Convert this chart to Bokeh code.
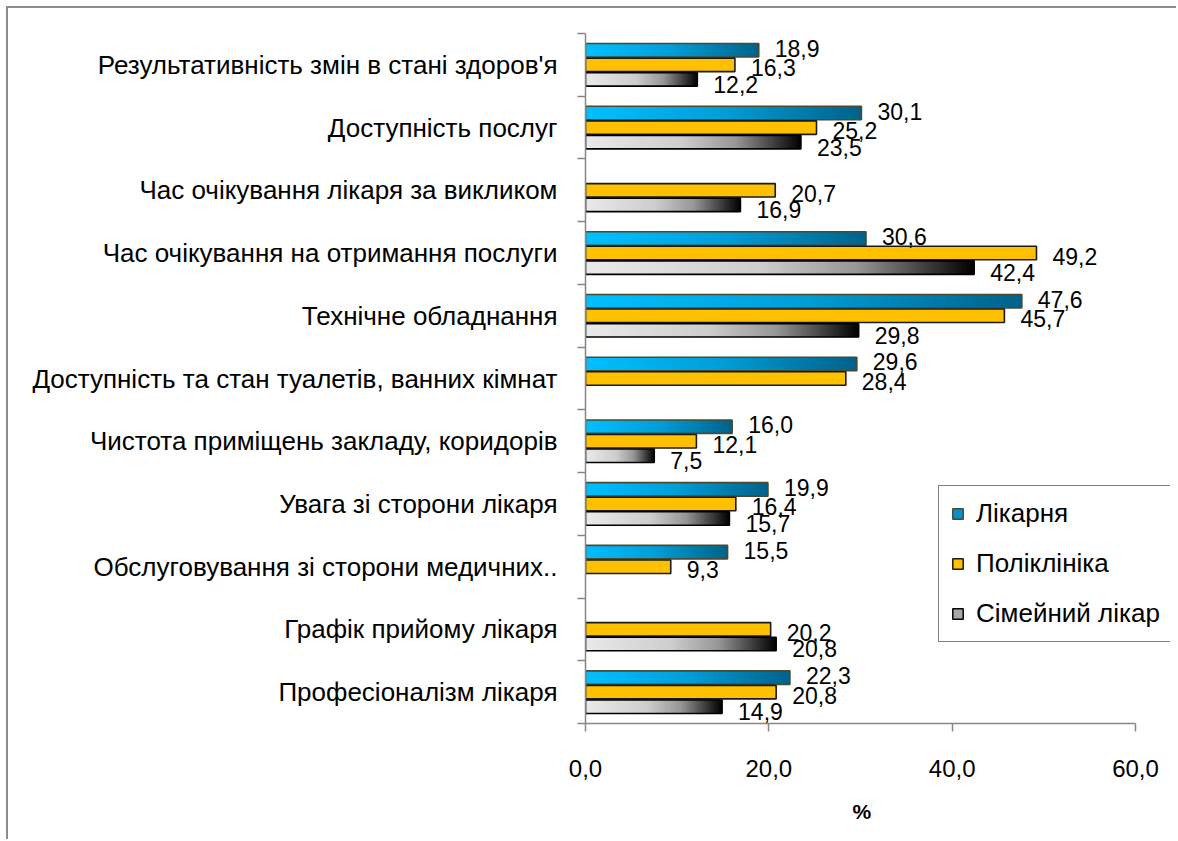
import numpy as np
from bokeh.plotting import figure
from bokeh.models import ColumnDataSource, FixedTicker, Range1d, Legend, LegendItem, Title
from bokeh.core.properties import value
from bokeh.embed import file_html
from bokeh.resources import INLINE

# ---------------- data ----------------
categories = [
    "Результативність змін в стані здоров'я",
    "Доступність послуг",
    "Час очікування лікаря за викликом",
    "Час очікування на отримання послуги",
    "Технічне обладнання",
    "Доступність та стан туалетів, ванних кімнат",
    "Чистота приміщень закладу, коридорів",
    "Увага зі сторони лікаря",
    "Обслуговування зі сторони медичних..",
    "Графік прийому лікаря",
    "Професіоналізм лікаря",
]
series_names = ["Лікарня", "Поліклініка", "Сімейний лікар"]
hospital = [18.9, 30.1, None, 30.6, 47.6, 29.6, 16.0, 19.9, 15.5, None, 22.3]
polyclinic = [16.3, 25.2, 20.7, 49.2, 45.7, 28.4, 12.1, 16.4, 9.3, 20.2, 20.8]
family = [12.2, 23.5, 16.9, 42.4, 29.8, None, 7.5, 15.7, None, 20.8, 14.9]
x_ticks = [0, 20, 40, 60]
x_tick_labels = ["0,0", "20,0", "40,0", "60,0"]
axis_title = "%"

# ---------------- styles ----------------
FONT = "Liberation Sans"
AXIS_GRAY = "#868686"
X_MAX = 60
X_VIEW_MAX = 63.82          # extra room on the right so the legend is not clipped
bar_offsets = [0.232, 0.0, -0.232]
bar_h = 0.215
label_dy = [-2, 3, 5]
gradients = [
    [(0.0, (0, 192, 255)), (0.5, (0, 158, 216)), (1.0, (0, 98, 138))],
    [(0.0, (255, 192, 0)), (1.0, (255, 192, 0))],
    [(0.0, (234, 234, 234)), (0.45, (205, 205, 205)), (0.7, (150, 150, 150)),
     (0.86, (70, 70, 70)), (1.0, (0, 0, 0))],
]
outline_colors = ["#4a4a32", "#1a1a1a", "#000000"]
legend_fill = ["#0a90c8", "#ffc000", "#a8a8a8"]
SLICE_W = 0.2               # data units per gradient slice


def interp(stops, t):
    for (t0, c0), (t1, c1) in zip(stops[:-1], stops[1:]):
        if t <= t1:
            f = (t - t0) / (t1 - t0) if t1 > t0 else 0.0
            c = [int(round(a + (b - a) * f)) for a, b in zip(c0, c1)]
            return "#%02x%02x%02x" % tuple(c)
    c = stops[-1][1]
    return "#%02x%02x%02x" % tuple(c)


n = len(categories)
centers = [n - i - 0.5 for i in range(n)]
all_series = [hospital, polyclinic, family]

p = figure(width=1170, height=833, x_range=Range1d(0, X_VIEW_MAX), y_range=Range1d(0, n),
           output_backend="svg", toolbar_location=None,
           min_border_left=577, min_border_right=8, min_border_top=25, min_border_bottom=118)
p.styles = {"margin-left": "6px", "margin-top": "6px",
            "border-left": "2px solid #8c8c8c", "border-top": "2px solid #8c8c8c"}
p.outline_line_color = None
p.xgrid.grid_line_color = None
p.ygrid.grid_line_color = None
p.background_fill_color = "white"
p.border_fill_color = "white"

# gradient slices (each slice overlaps the next so no seams appear)
sl = dict(left=[], right=[], top=[], bottom=[], color=[])
for s, vals in enumerate(all_series):
    for i, v in enumerate(vals):
        if v is None:
            continue
        yc = centers[i] + bar_offsets[s]
        m = max(1, int(np.ceil(v / SLICE_W)))
        for k in range(m):
            l = v * k / m
            r = min(v, v * (k + 2) / m)
            sl["left"].append(l)
            sl["right"].append(r)
            sl["top"].append(yc + bar_h / 2)
            sl["bottom"].append(yc - bar_h / 2)
            sl["color"].append(interp(gradients[s], (k + 0.5) / m))
p.quad(left="left", right="right", top="top", bottom="bottom", fill_color="color",
       line_color=None, source=ColumnDataSource(sl))

# outlines and labels
for s, vals in enumerate(all_series):
    idx = [i for i, v in enumerate(vals) if v is not None]
    xs = [vals[i] for i in idx]
    ys = [centers[i] + bar_offsets[s] for i in idx]
    src = ColumnDataSource(dict(
        left=[0] * len(xs), right=xs,
        top=[y + bar_h / 2 for y in ys], bottom=[y - bar_h / 2 for y in ys],
        x=xs, y=ys, text=[f"{v:.1f}".replace(".", ",") for v in xs]))
    p.quad(left="left", right="right", top="top", bottom="bottom", fill_color=None,
           line_color=outline_colors[s], line_width=1.6, source=src)
    p.text(x="x", y="y", text="text", source=src, x_offset=16, y_offset=label_dy[s],
           text_font=value(FONT), text_font_size="23px", text_baseline="middle",
           text_align="left", text_color="black")

# x axis
xa = p.xaxis[0]
xa.bounds = (0, X_MAX)
xa.ticker = FixedTicker(ticks=x_ticks)
xa.major_label_overrides = dict(zip(x_ticks, x_tick_labels))
xa.axis_line_color = AXIS_GRAY
xa.axis_line_width = 1.5
xa.major_tick_line_color = AXIS_GRAY
xa.major_tick_line_width = 1.5
xa.major_tick_out = 8
xa.major_tick_in = 0
xa.minor_tick_line_color = None
xa.major_label_text_font = FONT
xa.major_label_text_font_size = "24px"
xa.major_label_text_color = "black"
xa.major_label_standoff = 28

# axis title, centred under the 0..60 part of the axis
title_offset = (X_MAX / X_VIEW_MAX) * (1170 - 577 - 8) / 2 - 8
p.add_layout(Title(text=axis_title, align="left", offset=title_offset, standoff=37,
                   text_font=FONT, text_font_style="bold", text_font_size="21px",
                   text_color="black"), "below")

# y axis
ya = p.yaxis[0]
ya.ticker = FixedTicker(ticks=centers, minor_ticks=list(range(n + 1)))
ya.major_label_overrides = {c: cat for c, cat in zip(centers, categories)}
ya.axis_line_color = AXIS_GRAY
ya.axis_line_width = 1.5
ya.major_tick_line_color = None
ya.major_tick_out = 0
ya.major_tick_in = 0
ya.minor_tick_line_color = AXIS_GRAY
ya.minor_tick_line_width = 1.5
ya.minor_tick_out = 8
ya.minor_tick_in = 0
ya.major_label_text_font = FONT
ya.major_label_text_font_size = "26px"
ya.major_label_text_color = "black"
ya.major_label_standoff = 20

# legend (proxy glyphs placed below the visible range)
leg_r = [p.quad(left=[0], right=[1], top=[-2], bottom=[-3], fill_color=legend_fill[s],
                line_color=outline_colors[s], line_width=1.5) for s in range(3)]
legend = Legend(items=[LegendItem(label=series_names[s], renderers=[leg_r[s]]) for s in range(3)],
                location=(353, 81))
legend.margin = 0
legend.padding = 12
legend.spacing = 19
legend.label_height = 31
legend.glyph_height = 13
legend.glyph_width = 13
legend.label_standoff = 12
legend.label_text_font = FONT
legend.label_text_font_size = "26px"
legend.label_text_color = "black"
legend.border_line_color = "black"
legend.border_line_width = 1.5
legend.background_fill_color = "white"
legend.background_fill_alpha = 1.0
p.add_layout(legend)

open("out.html", "w").write(file_html(p, INLINE))
